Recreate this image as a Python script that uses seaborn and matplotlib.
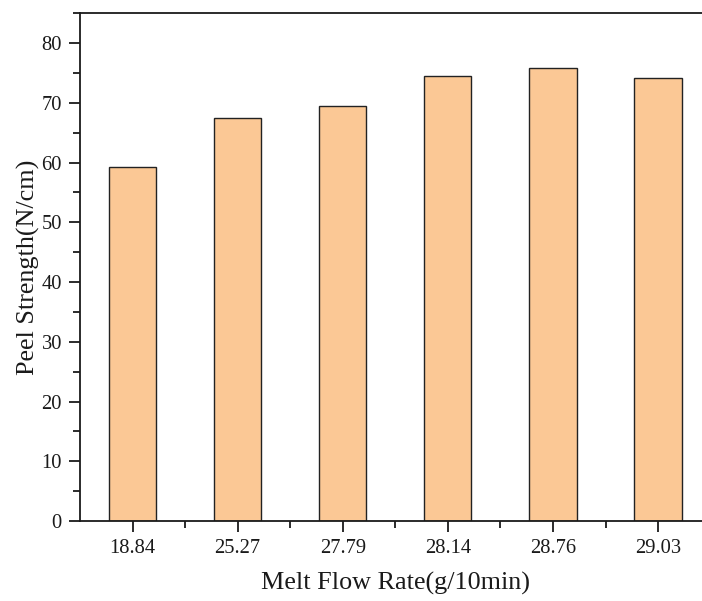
import matplotlib
matplotlib.use("Agg")
import matplotlib.pyplot as plt
import seaborn as sns
import pandas as pd
from matplotlib.ticker import MultipleLocator, FixedLocator

# Data
categories = ["18.84", "25.27", "27.79", "28.14", "28.76", "29.03"]
peel_strength = [59.2, 67.5, 69.4, 74.5, 75.9, 74.2]

df = pd.DataFrame({"mfr": categories, "peel": peel_strength})

sns.set_style("ticks")
plt.rcParams["font.family"] = ["Liberation Serif", "DejaVu Serif"]

fig = plt.figure(figsize=(7.02, 6.01), dpi=100)
ax = fig.add_axes([80 / 702, (601 - 521) / 601, 630.6 / 702, (521 - 13.3) / 601])

sns.barplot(data=df, x="mfr", y="peel", order=categories, color="#FBC895",
            saturation=1, width=0.45, edgecolor="#222222", linewidth=1.0, ax=ax)

ax.set_xlim(-0.5, 5.5)
ax.set_ylim(0, 85)
ax.yaxis.set_major_locator(MultipleLocator(10))
ax.yaxis.set_minor_locator(MultipleLocator(5))
ax.xaxis.set_minor_locator(FixedLocator([0.5, 1.5, 2.5, 3.5, 4.5]))

for side in ["left", "top", "bottom"]:
    ax.spines[side].set_visible(True)
    ax.spines[side].set_linewidth(1.3)
    ax.spines[side].set_color("#1a1a1a")
ax.spines["right"].set_visible(False)

ax.tick_params(axis="both", which="major", direction="out", length=8, width=1.3,
               labelsize=14.8, color="#1a1a1a", labelcolor="#1a1a1a", pad=5)
ax.tick_params(axis="both", which="minor", direction="out", length=5, width=1.3,
               color="#1a1a1a")
ax.tick_params(top=False, right=False, which="both")

ax.set_xlabel("Melt Flow Rate(g/10min)", fontsize=18.8, color="#1a1a1a", labelpad=10)
ax.set_ylabel("Peel Strength(N/cm)", fontsize=18.8, color="#1a1a1a", labelpad=1)

fig.savefig("out.png", dpi=100)
